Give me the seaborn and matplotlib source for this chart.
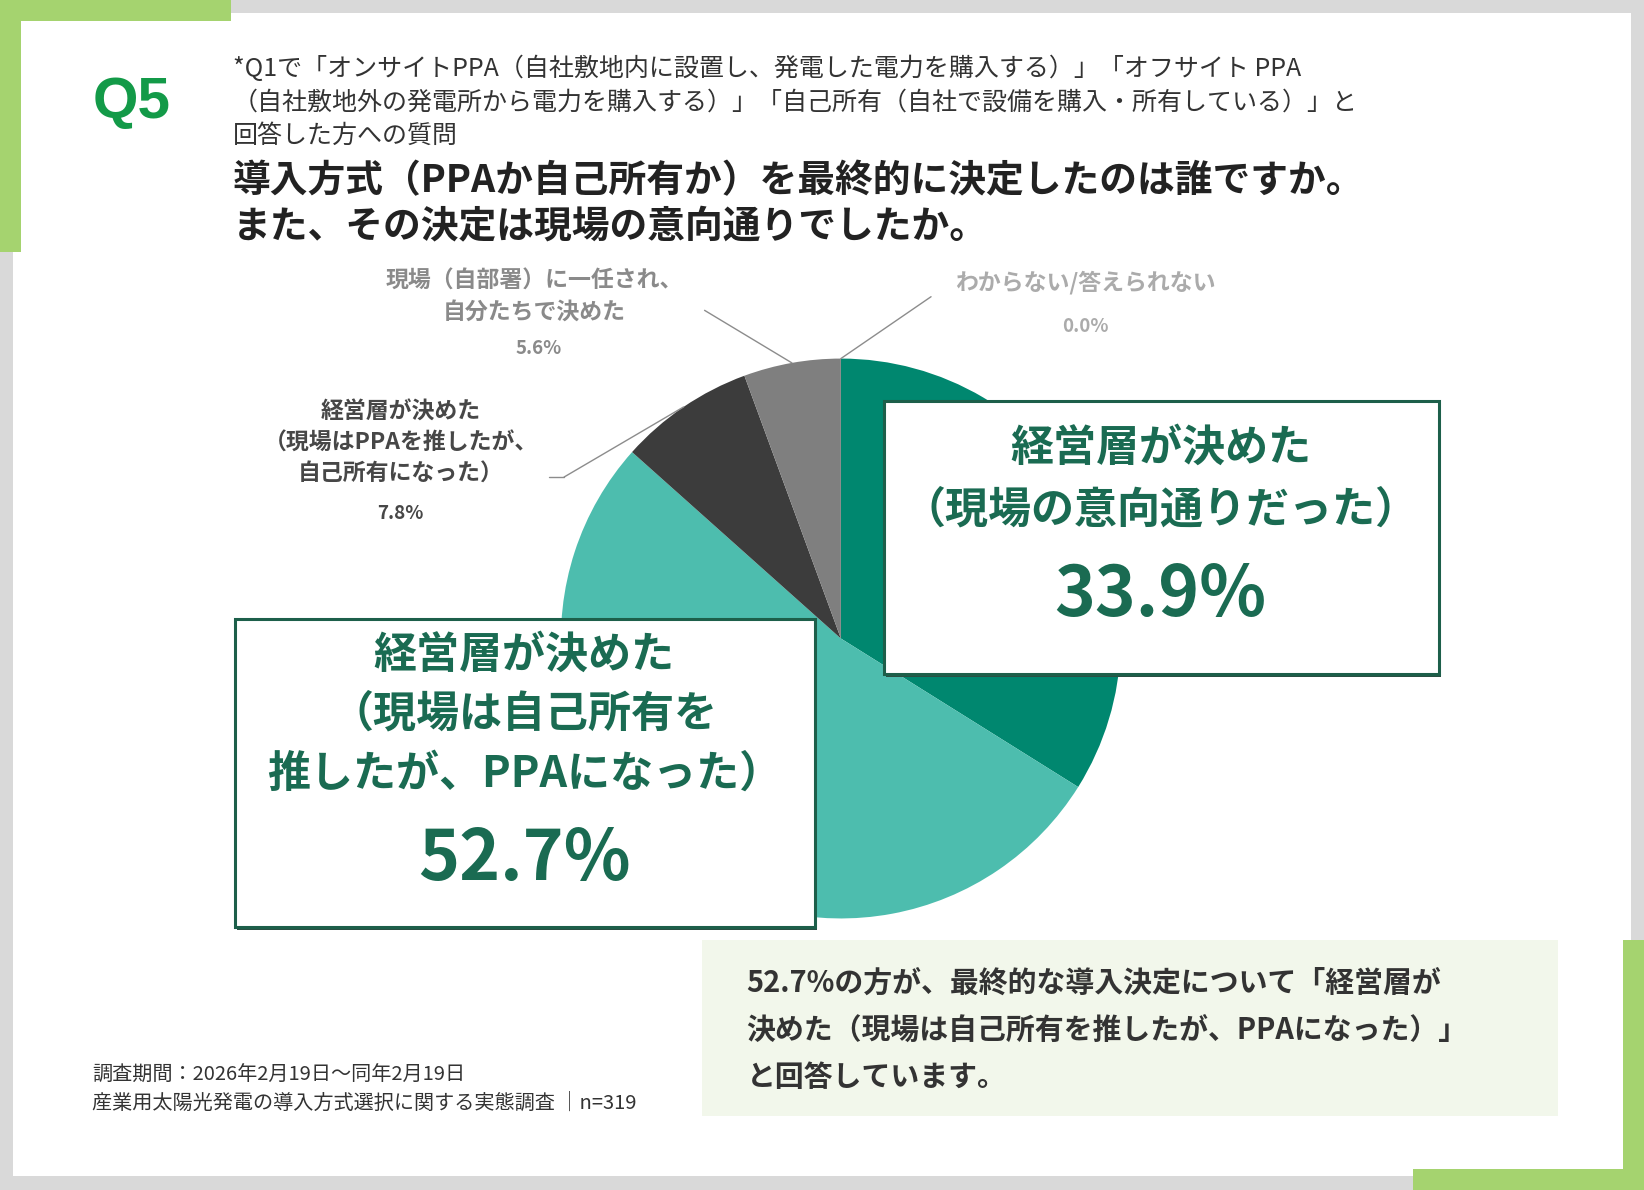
import numpy as np
import matplotlib
matplotlib.use("Agg")
import matplotlib.pyplot as plt
from matplotlib.patches import Rectangle
from matplotlib.lines import Line2D
import seaborn as sns

# data
categories = [
    "経営層が決めた（現場の意向通りだった）",
    "経営層が決めた（現場は自己所有を推したが、PPAになった）",
    "経営層が決めた（現場はPPAを推したが、自己所有になった）",
    "現場（自部署）に一任され、自分たちで決めた",
    "わからない/答えられない",
]
shares = [33.9, 52.7, 7.8, 5.6, 0.0]
slice_colors = ["#00876f", "#4dbdae", "#3c3c3c", "#7f7f7f", "#bdbdbd"]

sub_lines = [
    "*Q1で「オンサイトPPA（自社敷地内に設置し、発電した電力を購入する）」「オフサイト PPA",
    "（自社敷地外の発電所から電力を購入する）」「自己所有（自社で設備を購入・所有している）」と",
    "回答した方への質問",
]
question_lines = [
    "導入方式（PPAか自己所有か）を最終的に決定したのは誰ですか。",
    "また、その決定は現場の意向通りでしたか。",
]
note_lines = [
    "52.7%の方が、最終的な導入決定について「経営層が",
    "決めた（現場は自己所有を推したが、PPAになった）」",
    "と回答しています。",
]
footer_lines = [
    "調査期間：2026年2月19日～同年2月19日",
    "産業用太陽光発電の導入方式選択に関する実態調査 │n=319",
]

sns.set_theme(style="white")
plt.rcParams["font.family"] = ["Noto Sans CJK JP", "DejaVu Sans"]

W, H = 1568.0, 1135.0


def fx(x):
    return x / W


def fy(y):
    return 1 - y / H


def frect(x0, y0, x1, y1, **kw):
    return Rectangle((fx(x0), fy(y1)), fx(x1) - fx(x0), fy(y0) - fy(y1),
                     transform=fig.transFigure, **kw)


fig = plt.figure(figsize=(16.44, 11.9), dpi=100, facecolor="#d9d9d9")

# frame
fig.add_artist(frect(12, 12, 1556, 1122, facecolor="white", edgecolor="none", zorder=-3))
green = "#a5d36f"
fig.add_artist(frect(0, 0, 220, 20, facecolor=green, edgecolor="none", zorder=-2))
fig.add_artist(frect(0, 0, 20, 240, facecolor=green, edgecolor="none", zorder=-2))
fig.add_artist(frect(1348, 1115, 1568, 1135, facecolor=green, edgecolor="none", zorder=-2))
fig.add_artist(frect(1548, 897, 1568, 1135, facecolor=green, edgecolor="none", zorder=-2))

# header
fig.text(fx(88), fy(98), "Q5", fontsize=42, fontweight="bold", color="#139a48",
         family=["Liberation Sans", "DejaVu Sans"], va="center", ha="left")
for i, line in enumerate(sub_lines):
    fig.text(fx(222), fy(66 + 32 * i), line, fontsize=18, color="#333333",
             va="center", ha="left")
for i, line in enumerate(question_lines):
    fig.text(fx(222), fy(172 + 43 * i), line, fontsize=27.2, fontweight="bold",
             color="#222222", va="center", ha="left")

# pie
cx, cy, r = 802, 609, 267
ax = fig.add_axes([fx(cx - r), fy(cy + r), fx(2 * r), (2 * r) / H])
palette = sns.color_palette(slice_colors)
wedges, _ = ax.pie(shares, colors=palette, startangle=90, counterclock=False,
                   radius=1, wedgeprops=dict(linewidth=0))
ax.set_xlim(-1, 1)
ax.set_ylim(-1, 1)
ax.set_aspect("equal")
ax.axis("off")


def edge_point(w):
    a = np.deg2rad((w.theta1 + w.theta2) / 2)
    return np.cos(a), np.sin(a)


lead = dict(arrowstyle="-", color="#8c8c8c", lw=1.0, shrinkA=0, shrinkB=0)
ax.annotate("", xy=edge_point(wedges[3]), xycoords="data",
            xytext=(fx(672), fy(296)), textcoords="figure fraction",
            arrowprops=lead, annotation_clip=False)
ax.annotate("", xy=edge_point(wedges[4]), xycoords="data",
            xytext=(fx(888), fy(283)), textcoords="figure fraction",
            arrowprops=lead, annotation_clip=False)
ax.annotate("", xy=edge_point(wedges[2]), xycoords="data",
            xytext=(fx(538), fy(455)), textcoords="figure fraction",
            arrowprops=lead, annotation_clip=False)
fig.add_artist(Line2D([fx(524), fx(538)], [fy(455), fy(455)], color="#8c8c8c",
                      lw=1.0, transform=fig.transFigure))

# small outside labels
fig.text(fx(510), fy(283), "現場（自部署）に一任され、\n自分たちで決めた", fontsize=16.5,
         fontweight="bold", color="#8a8a8a", ha="center", va="center",
         multialignment="center", linespacing=1.45)
fig.text(fx(514), fy(332), f"{shares[3]:.1f}%", fontsize=13.5, fontweight="bold",
         color="#8a8a8a", ha="center", va="center")
fig.text(fx(1035), fy(270), "わからない/答えられない", fontsize=16.5, fontweight="bold",
         color="#ababab", ha="center", va="center")
fig.text(fx(1035), fy(311), f"{shares[4]:.1f}%", fontsize=13.5, fontweight="bold",
         color="#ababab", ha="center", va="center")
fig.text(fx(382), fy(423), "経営層が決めた\n（現場はPPAを推したが、\n自己所有になった）",
         fontsize=16.5, fontweight="bold", color="#474747", ha="center", va="center",
         multialignment="center", linespacing=1.45)
fig.text(fx(382), fy(490), f"{shares[2]:.1f}%", fontsize=13.5, fontweight="bold",
         color="#474747", ha="center", va="center")

# callout boxes
box_edge = "#1d5f4a"
box_text = "#1a6b52"
fig.add_artist(frect(845, 385, 1374, 646, facecolor="#2b4f43", edgecolor="none", zorder=2))
fig.add_artist(frect(843, 382, 1372, 643, facecolor="white", edgecolor=box_edge,
                     lw=2.2, zorder=2.1))
fig.text(fx(1107), fy(427), "経営層が決めた", fontsize=31, fontweight="bold",
         color=box_text, ha="center", va="center", zorder=3)
fig.text(fx(1107), fy(486), "（現場の意向通りだった）", fontsize=31, fontweight="bold",
         color=box_text, ha="center", va="center", zorder=3)
fig.text(fx(1107), fy(568), f"{shares[0]:.1f}%", fontsize=50, fontweight="bold",
         color=box_text, ha="center", va="center", zorder=3)

fig.add_artist(frect(226, 593, 779, 887, facecolor="#2b4f43", edgecolor="none", zorder=2))
fig.add_artist(frect(224, 590, 777, 884, facecolor="white", edgecolor=box_edge,
                     lw=2.2, zorder=2.1))
for i, line in enumerate(["経営層が決めた", "（現場は自己所有を", "推したが、PPAになった）"]):
    fig.text(fx(500), fy(624 + 57 * i), line, fontsize=31, fontweight="bold",
             color=box_text, ha="center", va="center", zorder=3)
fig.text(fx(500), fy(820), f"{shares[1]:.1f}%", fontsize=50, fontweight="bold",
         color=box_text, ha="center", va="center", zorder=3)

# summary note
fig.add_artist(frect(670, 897, 1486, 1064, facecolor="#f2f7eb", edgecolor="none", zorder=1))
for i, line in enumerate(note_lines):
    fig.text(fx(712), fy(937 + 45 * i), line, fontsize=20.8, fontweight="bold",
             color="#333333", ha="left", va="center", zorder=3)

# footer
for i, line in enumerate(footer_lines):
    fig.text(fx(88), fy(1026 + 26 * i), line, fontsize=14.5, color="#333333",
             ha="left", va="center")

fig.savefig("out.png", dpi=100, facecolor=fig.get_facecolor())
